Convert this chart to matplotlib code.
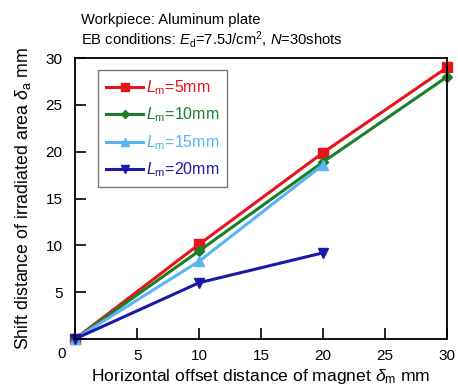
import matplotlib
matplotlib.use("Agg")
import matplotlib.pyplot as plt

plt.rcParams['font.family'] = ['Liberation Sans', 'DejaVu Sans']
plt.rcParams['mathtext.fontset'] = 'custom'
plt.rcParams['mathtext.rm'] = 'Liberation Sans'
plt.rcParams['mathtext.it'] = 'Liberation Sans:italic'
plt.rcParams['mathtext.default'] = 'regular'

x_5 = [0, 10, 20, 30]
y_5 = [0, 10.1, 19.9, 29.0]
x_10 = [0, 10, 20, 30]
y_10 = [0, 9.4, 18.9, 28.0]
x_15 = [0, 10, 20]
y_15 = [0, 8.3, 18.6]
x_20 = [0, 10, 20]
y_20 = [0, 6.0, 9.2]

labels = [r'$\mathit{L}_\mathrm{m}$=5mm', r'$\mathit{L}_\mathrm{m}$=10mm',
          r'$\mathit{L}_\mathrm{m}$=15mm', r'$\mathit{L}_\mathrm{m}$=20mm']
colors = ['#e8141c', '#1a7f2a', '#5ab4f0', '#1a1aa8']
markers = ['s', 'D', '^', 'v']
msizes = [7, 5.5, 7, 7]

fig = plt.figure(figsize=(4.58, 3.9), dpi=100)
ax = fig.add_axes([0.164, 0.131, 0.812, 0.720])

series = [(x_5, y_5), (x_10, y_10), (x_15, y_15), (x_20, y_20)]
for (xs, ys), lab, c, m, ms in zip(series, labels, colors, markers, msizes):
    ax.plot(xs, ys, color=c, marker=m, markersize=ms, linewidth=2.2, label=lab, clip_on=False)

ax.set_xlim(0, 30)
ax.set_ylim(0, 30)
ax.set_xticks([0, 5, 10, 15, 20, 25, 30])
ax.set_xticklabels(['', '5', '10', '15', '20', '25', '30'])
ax.set_yticks([0, 5, 10, 15, 20, 25, 30])
ax.set_yticklabels(['', '5', '10', '15', '20', '25', '30'])
ax.tick_params(direction='in', length=8, width=1.2, labelsize=11, pad=7, top=False, right=False)
ax.tick_params(axis='y', pad=9)
for s in ax.spines.values():
    s.set_linewidth(1.3)
ax.text(-0.035, -0.055, '0', transform=ax.transAxes, ha='center', va='center', fontsize=11)

ax.set_xlabel(r'Horizontal offset distance of magnet $\mathit{\delta}_\mathrm{m}$ mm', fontsize=12.6, labelpad=3)
ax.set_ylabel(r'Shift distance of irradiated area $\mathit{\delta}_\mathrm{a}$ mm', fontsize=12.8, labelpad=9)

fig.text(0.177, 0.949, 'Workpiece: Aluminum plate', fontsize=10.6, va='center')
fig.text(0.177, 0.899, r'EB conditions: $\mathit{E}_\mathrm{d}$=7.5J/cm$^2$, $\mathit{N}$=30shots', fontsize=10.6, va='center')

leg = ax.legend(loc='upper left', bbox_to_anchor=(0.062, 0.957), borderaxespad=0, fontsize=11.5,
                labelcolor='linecolor', fancybox=False, edgecolor='#555555', handlelength=2.3,
                borderpad=0.5, labelspacing=0.55, handletextpad=0.2, markerscale=0.75)
leg.get_frame().set_linewidth(1.0)

fig.savefig('out.png', dpi=100)
